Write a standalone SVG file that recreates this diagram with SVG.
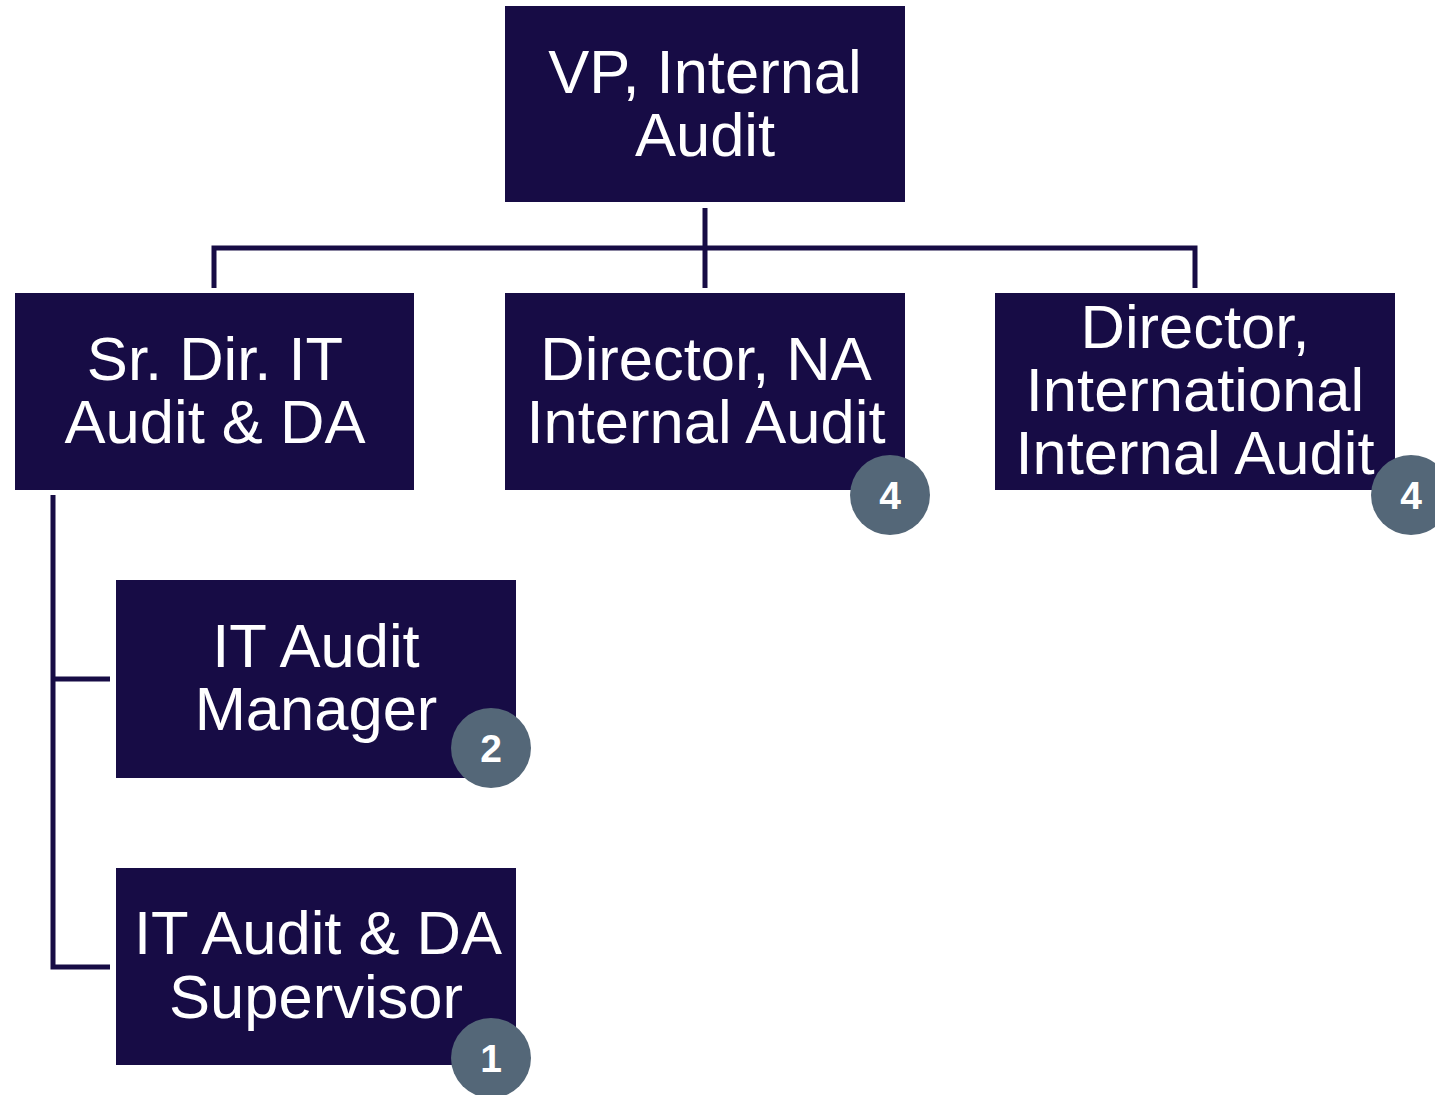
<svg xmlns="http://www.w3.org/2000/svg" width="1435" height="1095" viewBox="0 0 1435 1095">
<style>
.box{fill:#170c45;}
.t{font-family:"Liberation Sans",Arial,sans-serif;font-size:61.5px;fill:#ffffff;text-anchor:middle;}
.badge circle{fill:#546778;}
.badge text{font-family:"Liberation Sans",Arial,sans-serif;font-size:39px;font-weight:bold;fill:#ffffff;text-anchor:middle;}
.c{stroke:#170c45;stroke-width:5;fill:none;}
</style>
<rect width="1435" height="1095" fill="#ffffff"/>
<g id="connectors">
<path class="c" d="M705 208 V288"/>
<path class="c" d="M214 288 V248 H1195 V288"/>
<path class="c" d="M53 495 V967 H110"/>
<path class="c" d="M53 679 H110"/>
</g>
<g id="vp">
<rect class="box" x="505" y="6" width="400" height="196"/>
<text class="t" x="705" y="93">VP, Internal</text>
<text class="t" x="705" y="156">Audit</text>
</g>
<g id="srdir">
<rect class="box" x="15" y="293" width="399" height="197"/>
<text class="t" x="215" y="380">Sr. Dir. IT</text>
<text class="t" x="215" y="443">Audit &amp; DA</text>
</g>
<g id="dirna">
<rect class="box" x="505" y="293" width="400" height="197"/>
<text class="t" x="706" y="380">Director, NA</text>
<text class="t" x="706" y="443">Internal Audit</text>
<g class="badge"><circle cx="890" cy="495" r="40"/><text x="890" y="509">4</text></g>
</g>
<g id="dirintl">
<rect class="box" x="995" y="293" width="400" height="197"/>
<text class="t" x="1195" y="348">Director,</text>
<text class="t" x="1195" y="411">International</text>
<text class="t" x="1195" y="474">Internal Audit</text>
<g class="badge"><circle cx="1411" cy="495" r="40"/><text x="1411" y="509">4</text></g>
</g>
<g id="itmgr">
<rect class="box" x="116" y="580" width="400" height="198"/>
<text class="t" x="316" y="667">IT Audit</text>
<text class="t" x="316" y="730">Manager</text>
<g class="badge"><circle cx="491" cy="748" r="40"/><text x="491" y="762">2</text></g>
</g>
<g id="itsup">
<rect class="box" x="116" y="868" width="400" height="197"/>
<text class="t" x="318" y="954">IT Audit &amp; DA</text>
<text class="t" x="316" y="1018">Supervisor</text>
<g class="badge"><circle cx="491" cy="1058" r="40"/><text x="491" y="1072">1</text></g>
</g>
</svg>
